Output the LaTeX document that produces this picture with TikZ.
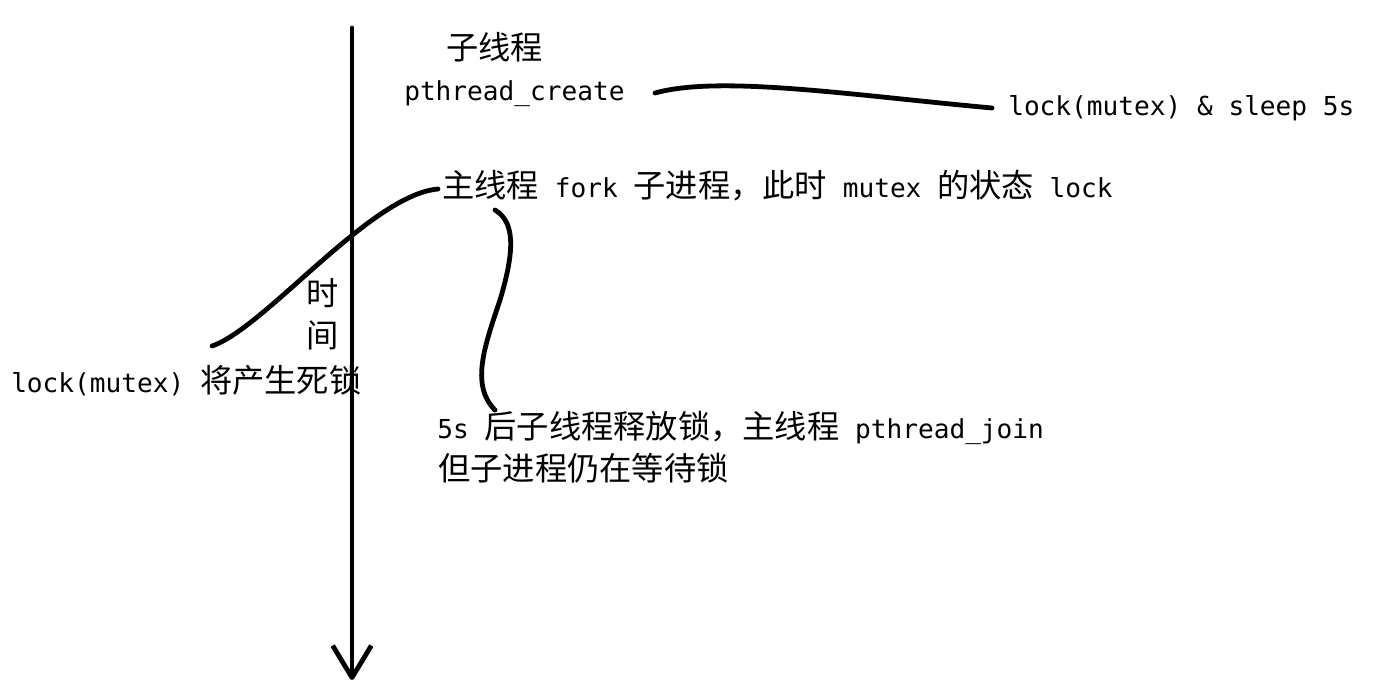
\documentclass[tikz,border=0pt]{standalone}
\usepackage{fontspec}
\setmainfont{DejaVu Sans Mono}
\newfontfamily\cjk{Noto Sans CJK SC}
\usetikzlibrary{arrows.meta}
\newcommand\zh[1]{{\cjk\fontsize{24.2pt}{31.5pt}\selectfont #1}}
\tikzset{
  txt/.style={anchor=base west, inner sep=0pt, font=\fontsize{19.6pt}{31.5pt}\selectfont},
  wire/.style={line width=3.6pt, line cap=round}
}
\begin{document}
\begin{tikzpicture}[x=0.75pt,y=-0.75pt]
\useasboundingbox (0,0) rectangle (1374,692);

% Time axis
\coordinate (top) at (352,28);
\coordinate (bot) at (352,680);
\draw[wire,-{Straight Barb[length=24pt,width=29pt,line join=round]}] (top) -- (bot);
\node[inner sep=0pt, align=center, anchor=base, font=\fontsize{19.6pt}{31.5pt}\selectfont] (time) at (323,347) {\zh{时}\\[0pt]\zh{间}};

% Labels
\node[txt] (sub)    at (446,60)  {\zh{子线程}};
\node[txt] (create) at (404,100) {pthread\_create};
\node[txt] (sleep)  at (1008,115) {lock(mutex) \& sleep 5s};
\node[txt] (fork)   at (442,197) {\zh{主线程}\ fork\ \zh{子进程，此时}\ mutex\ \zh{的状态}\ lock};
\node[txt] (dead)   at (11,392)  {lock(mutex)\ \zh{将产生死锁}};
\node[txt] (join)   at (437,438) {5s\ \zh{后子线程释放锁，主线程}\ pthread\_join};
\node[txt] (wait)   at (438,480) {\zh{但子进程仍在等待锁}};

% Curves
\coordinate (c1) at (655,93);
\coordinate (c2) at (992,108);
\draw[wire] (c1) .. controls (720,75) and (850,95) .. (c2);

\coordinate (d1) at (212,346);
\coordinate (d2) at (438,189);
\draw[wire] (d1) .. controls (265,328) and (370,195) .. (d2);

\coordinate (e1) at (495,210);
\coordinate (e2) at (495,410);
\draw[wire] (e1) .. controls (515,222) and (515,250) .. (500,300)
  .. controls (485,345) and (470,385) .. (e2);

\end{tikzpicture}
\end{document}
